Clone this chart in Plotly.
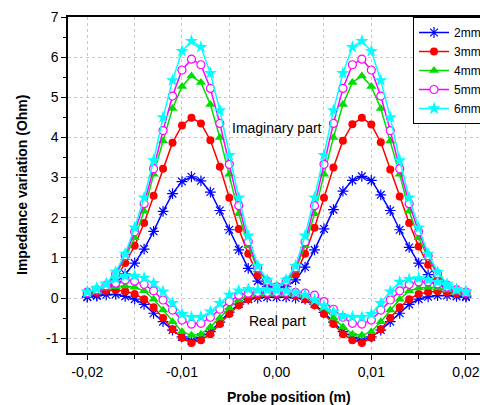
import plotly.graph_objects as go

x_pos = [-0.020, -0.019, -0.018, -0.017, -0.016, -0.015, -0.014, -0.013, -0.012, -0.011,
         -0.010, -0.009, -0.008, -0.007, -0.006, -0.005, -0.004, -0.003, -0.002, -0.001,
         0.000, 0.001, 0.002, 0.003, 0.004, 0.005, 0.006, 0.007, 0.008, 0.009,
         0.010, 0.011, 0.012, 0.013, 0.014, 0.015, 0.016, 0.017, 0.018, 0.019, 0.020]

series_names = ["2mm", "3mm", "4mm", "5mm", "6mm"]

imag_2mm = [0.03, 0.07, 0.20, 0.38, 0.60, 0.87, 1.22, 1.66, 2.16, 2.60, 2.90, 3.02, 2.92, 2.64, 2.18, 1.70, 1.20, 0.74, 0.42, 0.28,
            0.27, 0.28, 0.45, 0.77, 1.20, 1.72, 2.20, 2.66, 2.93, 3.03, 2.93, 2.57, 2.18, 1.70, 1.26, 0.87, 0.58, 0.37, 0.20, 0.10, 0.05]
imag_3mm = [0.10, 0.17, 0.27, 0.49, 0.87, 1.30, 1.87, 2.55, 3.22, 3.87, 4.30, 4.49, 4.35, 3.93, 3.27, 2.50, 1.72, 1.10, 0.57, 0.38,
            0.28, 0.38, 0.60, 1.10, 1.75, 2.50, 3.25, 3.92, 4.33, 4.49, 4.32, 3.88, 3.20, 2.53, 1.87, 1.28, 0.83, 0.49, 0.33, 0.20, 0.13]
imag_4mm = [0.12, 0.18, 0.30, 0.58, 1.00, 1.50, 2.16, 3.08, 3.91, 4.72, 5.27, 5.53, 5.37, 4.82, 4.00, 3.08, 2.10, 1.30, 0.70, 0.42,
            0.28, 0.42, 0.70, 1.30, 2.10, 3.08, 4.00, 4.82, 5.37, 5.53, 5.27, 4.72, 3.91, 3.08, 2.16, 1.50, 1.00, 0.58, 0.30, 0.18, 0.12]
imag_5mm = [0.15, 0.20, 0.32, 0.60, 1.05, 1.65, 2.35, 3.22, 4.17, 5.03, 5.68, 5.95, 5.81, 5.22, 4.35, 3.33, 2.30, 1.40, 0.75, 0.42,
            0.28, 0.42, 0.75, 1.40, 2.30, 3.33, 4.35, 5.22, 5.81, 5.95, 5.68, 5.03, 4.17, 3.22, 2.35, 1.65, 1.05, 0.60, 0.32, 0.20, 0.15]
imag_6mm = [0.15, 0.22, 0.35, 0.65, 1.10, 1.75, 2.50, 3.43, 4.50, 5.42, 6.15, 6.40, 6.25, 5.60, 4.67, 3.56, 2.50, 1.55, 0.80, 0.45,
            0.28, 0.45, 0.80, 1.55, 2.50, 3.56, 4.67, 5.60, 6.25, 6.40, 6.15, 5.42, 4.50, 3.43, 2.50, 1.75, 1.10, 0.65, 0.35, 0.22, 0.15]

real_2mm = [0.02, 0.05, 0.08, 0.09, 0.04, -0.03, -0.16, -0.38, -0.59, -0.80, -0.97, -1.06, -0.98, -0.84, -0.60, -0.35, -0.15, -0.03, 0.00, 0.02,
            0.02, 0.02, 0.00, -0.03, -0.15, -0.36, -0.60, -0.84, -0.98, -1.06, -0.97, -0.80, -0.59, -0.38, -0.16, -0.03, 0.03, 0.06, 0.06, 0.04, 0.02]
real_3mm = [0.10, 0.13, 0.18, 0.20, 0.17, 0.10, -0.03, -0.23, -0.50, -0.78, -0.99, -1.12, -1.05, -0.90, -0.65, -0.40, -0.18, -0.03, 0.05, 0.08,
            0.08, 0.08, 0.05, -0.03, -0.18, -0.40, -0.65, -0.90, -1.05, -1.12, -0.99, -0.78, -0.50, -0.23, -0.03, 0.10, 0.15, 0.17, 0.14, 0.11, 0.09]
real_4mm = [0.12, 0.18, 0.25, 0.28, 0.30, 0.27, 0.18, -0.03, -0.30, -0.59, -0.84, -0.93, -0.90, -0.72, -0.50, -0.25, -0.05, 0.07, 0.10, 0.10,
            0.10, 0.10, 0.10, 0.07, -0.05, -0.25, -0.50, -0.72, -0.90, -0.93, -0.84, -0.59, -0.30, -0.03, 0.18, 0.25, 0.27, 0.25, 0.20, 0.15, 0.12]
real_5mm = [0.13, 0.20, 0.30, 0.37, 0.45, 0.42, 0.34, 0.18, -0.05, -0.30, -0.55, -0.65, -0.63, -0.48, -0.28, -0.09, 0.07, 0.12, 0.14, 0.14,
            0.14, 0.14, 0.14, 0.12, 0.07, -0.09, -0.28, -0.48, -0.63, -0.65, -0.55, -0.30, -0.05, 0.18, 0.34, 0.40, 0.40, 0.35, 0.27, 0.20, 0.14]
real_6mm = [0.15, 0.25, 0.35, 0.48, 0.55, 0.55, 0.50, 0.37, 0.16, -0.13, -0.40, -0.48, -0.47, -0.34, -0.13, 0.08, 0.18, 0.22, 0.20, 0.20,
            0.19, 0.18, 0.13, 0.08, -0.05, -0.20, -0.34, -0.45, -0.47, -0.48, -0.40, -0.13, 0.16, 0.40, 0.47, 0.49, 0.45, 0.40, 0.30, 0.20, 0.17]

imag_all = [imag_2mm, imag_3mm, imag_4mm, imag_5mm, imag_6mm]
real_all = [real_2mm, real_3mm, real_4mm, real_5mm, real_6mm]

x_tickvals = [-0.02, -0.01, 0.0, 0.01, 0.02]
x_ticktext = ["-0,02", "-0,01", "0,00", "0,01", "0,02"]
y_tickvals = [-1, 0, 1, 2, 3, 4, 5, 6, 7]
y_ticktext = ["-1", "0", "1", "2", "3", "4", "5", "6", "7"]

colors = ["#0000ff", "#ff0000", "#00dd00", "#ff00ff", "#00ffff"]
markers = [
    dict(symbol="asterisk-open", size=9, color="#0000ff", line=dict(color="#0000ff", width=1.2)),
    dict(symbol="circle", size=8, color="#ff0000", line=dict(width=0)),
    dict(symbol="triangle-up", size=9, color="#00dd00", line=dict(width=0)),
    dict(symbol="circle", size=8, color="white", line=dict(color="#ff00ff", width=1.2)),
    dict(symbol="star", size=10, color="#00ffff", line=dict(width=0)),
]

fig = go.Figure()
for i, name in enumerate(series_names):
    fig.add_trace(go.Scatter(x=x_pos, y=imag_all[i], mode="lines+markers", name=name,
                             legendgroup=name, line=dict(color=colors[i], width=1.5),
                             marker=markers[i]))
    fig.add_trace(go.Scatter(x=x_pos, y=real_all[i], mode="lines+markers", name=name,
                             legendgroup=name, showlegend=False,
                             line=dict(color=colors[i], width=1.5), marker=markers[i]))

plot_w = 480 - 68
plot_h = 405 - 17 - 52

font_family = "Arial, Liberation Sans, sans-serif"
fig.update_layout(
    width=480, height=405,
    margin=dict(l=68, r=0, t=17, b=52, autoexpand=False),
    paper_bgcolor="white", plot_bgcolor="white",
    font=dict(family=font_family, size=14, color="black"),
    showlegend=True,
    legend=dict(x=(413 - 68) / plot_w, y=1, xanchor="left", yanchor="top", bgcolor="white",
                bordercolor="black", borderwidth=1, font=dict(size=12),
                tracegroupgap=0),
    xaxis=dict(range=[-0.02204, 0.02148], tickvals=x_tickvals, ticktext=x_ticktext,
               ticks="outside", ticklen=5, tickwidth=1, tickcolor="black",
               showline=True, linecolor="black", linewidth=1.5, mirror=True,
               showgrid=True, gridcolor="#c8c8c8", griddash="dot", gridwidth=1,
               minor=dict(dtick=0.005, tick0=0, ticks="outside", ticklen=4, tickcolor="black",
                          showgrid=True, gridcolor="#c8c8c8", griddash="dot"),
               zeroline=False),
    yaxis=dict(range=[-1.37, 7], tickvals=y_tickvals, ticktext=y_ticktext,
               ticks="outside", ticklen=5, tickwidth=1, tickcolor="black",
               showline=True, linecolor="black", linewidth=1.5, mirror=False,
               showgrid=True, gridcolor="#c8c8c8", griddash="dot", gridwidth=1,
               minor=dict(dtick=0.5, tick0=0, ticks="outside", ticklen=3, tickcolor="black",
                          showgrid=False),
               zeroline=False),
    annotations=[
        dict(text="Imaginary part", x=0.0, y=4.23, xref="x", yref="y", showarrow=False,
             font=dict(size=14)),
        dict(text="Real part", x=0.0001, y=-0.57, xref="x", yref="y", showarrow=False,
             font=dict(size=14)),
        dict(text="<b>Probe position (m)</b>", x=(289 - 68) / plot_w, y=(353 - 397) / plot_h,
             xref="paper", yref="paper", xanchor="center", yanchor="middle",
             showarrow=False, font=dict(size=14)),
        dict(text="<b>Impedance variation (Ohm)</b>", textangle=-90,
             x=(22 - 68) / plot_w, y=0.5, xref="paper", yref="paper",
             xanchor="center", yanchor="middle", showarrow=False, font=dict(size=14)),
    ],
)

fig.write_html("out.html")
